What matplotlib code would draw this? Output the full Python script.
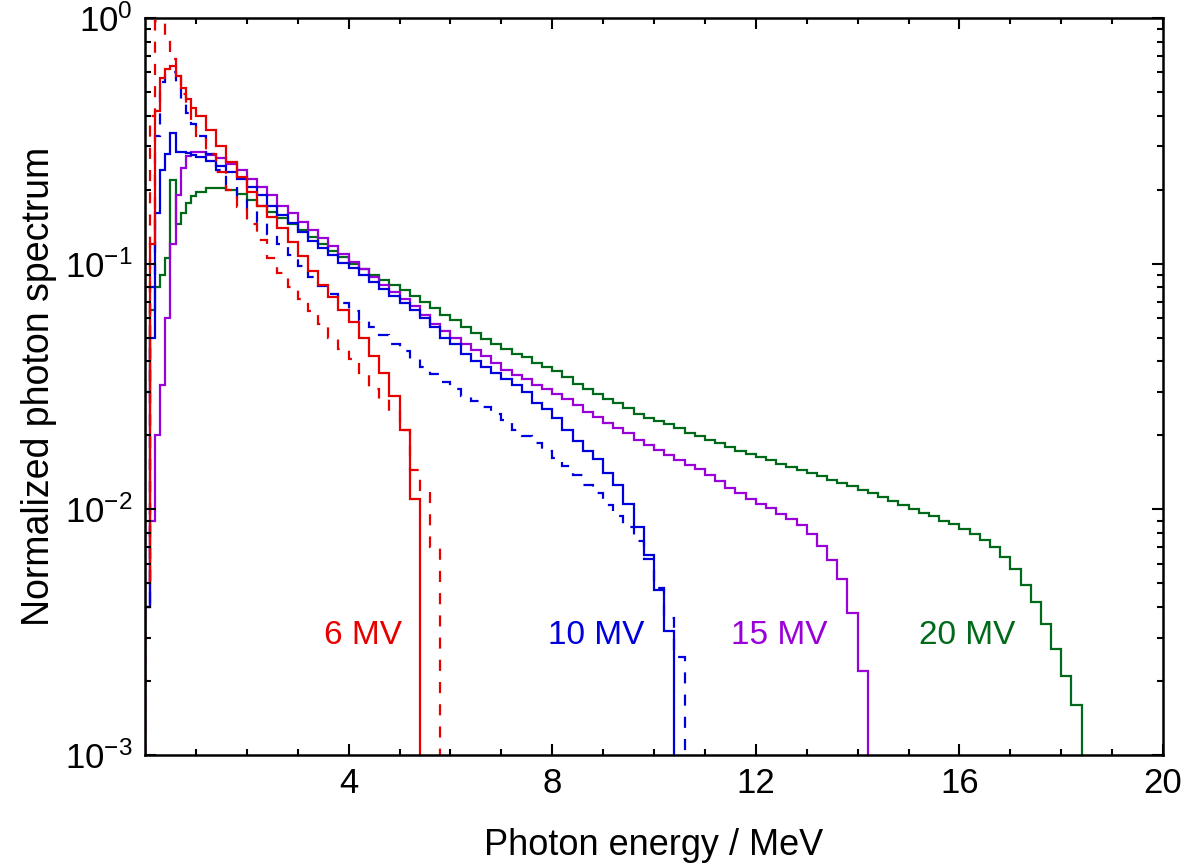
import numpy as np
import matplotlib
matplotlib.use("Agg")
import matplotlib.pyplot as plt

plt.rcParams['font.family'] = ['Liberation Sans', 'DejaVu Sans']
plt.rcParams['mathtext.fontset'] = 'custom'
plt.rcParams['mathtext.rm'] = 'Liberation Sans'

# spectra: 0.1 MeV bins below 1 MeV, then 0.2 MeV bins
mv6_low = [0.005, 0.12, 0.42, 0.57, 0.62, 0.64, 0.58, 0.52, 0.47, 0.43]
mv6_high = [0.40, 0.35, 0.30, 0.26, 0.225, 0.195, 0.172, 0.155, 0.140, 0.122,
            0.107, 0.093, 0.082, 0.073, 0.065, 0.058, 0.050, 0.042, 0.036, 0.029,
            0.021, 0.011]

mv6d_low = [0.005, 0.40, 0.97, 0.95, 0.80, 0.68, 0.58, 0.49, 0.43, 0.37]
mv6d_high = [0.33, 0.28, 0.235, 0.20, 0.17, 0.145, 0.125, 0.105, 0.092, 0.080,
             0.072, 0.064, 0.057, 0.050, 0.045, 0.041, 0.036, 0.031, 0.028, 0.025,
             0.021, 0.0145, 0.012, 0.007]

mv10_low = [0.004, 0.05, 0.16, 0.24, 0.28, 0.34, 0.285, 0.285, 0.282, 0.278]
mv10_high = [0.272, 0.262, 0.250, 0.236, 0.222, 0.205, 0.190, 0.172, 0.158, 0.146,
             0.135, 0.124, 0.116, 0.108, 0.101, 0.096, 0.090, 0.084, 0.079, 0.074,
             0.069, 0.065, 0.060, 0.055, 0.050, 0.047, 0.043, 0.040, 0.038, 0.036,
             0.034, 0.032, 0.030, 0.027, 0.0255, 0.0235, 0.021, 0.019, 0.0172, 0.016,
             0.0140, 0.0125, 0.0105, 0.0085, 0.0065, 0.0047, 0.0032]

mv10d_low = [0.004, 0.08, 0.33, 0.55, 0.60, 0.60, 0.52, 0.46, 0.41, 0.37]
mv10d_high = [0.33, 0.28, 0.24, 0.205, 0.185, 0.165, 0.148, 0.132, 0.12, 0.108,
              0.098, 0.088, 0.081, 0.075, 0.069, 0.064, 0.059, 0.055, 0.051, 0.047,
              0.044, 0.041, 0.038, 0.0355, 0.033, 0.031, 0.029, 0.0275, 0.026, 0.0245,
              0.023, 0.021, 0.0198, 0.0186, 0.0172, 0.0162, 0.0150, 0.0138, 0.0125, 0.0116,
              0.0104, 0.0094, 0.0085, 0.0074, 0.0063, 0.0048, 0.0036, 0.0025]

mv15_low = [0.004, 0.009, 0.02, 0.032, 0.06, 0.12, 0.19, 0.245, 0.275, 0.285]
mv15_high = [0.285, 0.278, 0.268, 0.255, 0.24, 0.222, 0.205, 0.19, 0.172, 0.16,
             0.148, 0.137, 0.127, 0.118, 0.109, 0.102, 0.095, 0.088, 0.082, 0.077,
             0.072, 0.067, 0.062, 0.057, 0.053, 0.050, 0.047, 0.0445, 0.042, 0.0395,
             0.037, 0.0352, 0.0338, 0.0322, 0.031, 0.0295, 0.028, 0.0265, 0.025, 0.0238,
             0.0225, 0.0215, 0.0205, 0.0192, 0.0182, 0.0174, 0.0166, 0.0158, 0.0152, 0.0146,
             0.0138, 0.013, 0.0122, 0.0116, 0.011, 0.0105, 0.0101, 0.0096, 0.0091, 0.0086,
             0.0079, 0.0071, 0.0062, 0.0052, 0.0038, 0.0022]

mv20_low = [0.03, 0.065, 0.08, 0.09, 0.105, 0.22, 0.145, 0.16, 0.177, 0.188]
mv20_high = [0.195, 0.203, 0.204, 0.200, 0.192, 0.182, 0.172, 0.163, 0.153, 0.145,
             0.137, 0.128, 0.12, 0.113, 0.106, 0.10, 0.095, 0.09, 0.086, 0.082,
             0.078, 0.074, 0.070, 0.066, 0.062, 0.059, 0.055, 0.052, 0.0495, 0.047,
             0.045, 0.043, 0.0415, 0.0395, 0.038, 0.0365, 0.0345, 0.0325, 0.031, 0.0295,
             0.028, 0.027, 0.0258, 0.0245, 0.0235, 0.0228, 0.0222, 0.0214, 0.0205, 0.0198,
             0.0192, 0.0186, 0.018, 0.0173, 0.0168, 0.0163, 0.0158, 0.0153, 0.0148, 0.0144,
             0.014, 0.0136, 0.0132, 0.0128, 0.0124, 0.012, 0.0116, 0.0112, 0.0108, 0.0104,
             0.010, 0.0097, 0.0094, 0.009, 0.0087, 0.0083, 0.0079, 0.0075, 0.007, 0.0064,
             0.0057, 0.0049, 0.0042, 0.0034, 0.0027, 0.0021, 0.0016]

labels = ['6 MV', '10 MV', '15 MV', '20 MV']
label_x = [4.28, 8.86, 12.46, 16.15]
label_y = 0.00305

red = '#e60000'
blue = '#0000dc'
purple = '#9a00d8'
green = '#006a1a'


def edges_for(n_high):
    low = np.arange(0, 10) * 0.1
    high = 1.0 + np.arange(0, n_high + 1) * 0.2
    return np.concatenate([low, high])


fig = plt.figure(figsize=(11.81, 8.64), dpi=100)
ax = fig.add_axes([0.1228, 0.1262, 0.862, 0.853])

curves = [
    (mv6_low, mv6_high, red, '-'),
    (mv6d_low, mv6d_high, red, (0, (5, 5))),
    (mv10_low, mv10_high, blue, '-'),
    (mv10d_low, mv10d_high, blue, (0, (5, 5))),
    (mv15_low, mv15_high, purple, '-'),
    (mv20_low, mv20_high, green, '-'),
]
for low, high, col, ls in curves[::-1]:
    vals = np.array(low + high)
    ax.stairs(vals, edges_for(len(high)), baseline=1e-6, color=col,
              lw=1.6, linestyle=ls)

for txt, x, col in zip(labels, label_x, [red, blue, purple, green]):
    ax.text(x, label_y, txt, color=col, fontsize=24, ha='center', va='center')

ax.set_yscale('log')
ax.set_xlim(0, 20)
ax.set_ylim(1e-3, 1)
ax.set_xticks([4, 8, 12, 16, 20])
ax.set_xticks(np.arange(1, 20), minor=True)
ax.set_yticks([1e-3, 1e-2, 1e-1, 1])
ax.set_yticklabels([r'$\mathregular{10^{-3}}$', r'$\mathregular{10^{-2}}$',
                    r'$\mathregular{10^{-1}}$', r'$\mathregular{10^{0}}$'])
ax.tick_params(which='both', direction='in', top=True, right=True, width=1.5,
               labelsize=25)
ax.tick_params(which='major', length=8, pad=9)
ax.tick_params(which='minor', length=4)
for s in ax.spines.values():
    s.set_linewidth(1.8)

ax.set_xlabel('Photon energy / MeV', fontsize=26, labelpad=20)
ax.set_ylabel('Normalized photon spectrum', fontsize=27, labelpad=6)

fig.savefig('out.png', dpi=100)
